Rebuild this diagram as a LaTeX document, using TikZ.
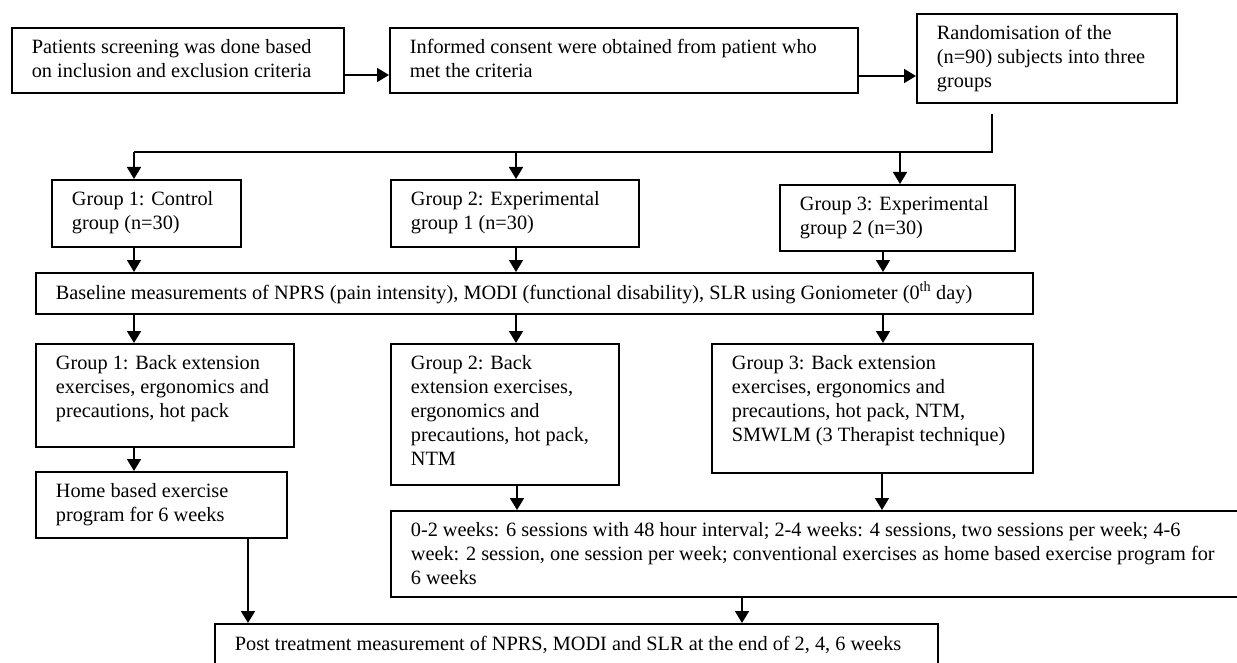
\documentclass[tikz,border=0pt]{standalone}
\usepackage{fontspec}
\setmainfont{Liberation Serif}
\usetikzlibrary{arrows.meta}
\newcommand{\boxtext}[3]{\parbox[c][#2pt][t]{#1pt}{\raggedright\strut #3}}
\begin{document}
\begin{tikzpicture}[x=1pt,y=-1pt,
  every node/.style={font=\fontsize{20.3}{24}\selectfont},
  box/.style={draw, line width=1.7pt, inner xsep=20pt, inner ysep=9pt, anchor=north west},
  conn/.style={line width=1.7pt},
  arr/.style={conn, -{Triangle[length=12pt,width=14pt]}}]
\useasboundingbox (0,0) rectangle (1237,663);
% top row
\node[box] (A) at (11,27) {\boxtext{292}{47}{Patients screening was done based\\on inclusion and exclusion criteria}};
\node[box] (B) at (389,27) {\boxtext{428}{47}{Informed consent were obtained from patient who\\met the criteria}};
\node[box] (C) at (916,13) {\boxtext{220}{71}{Randomisation of the\\(n=90) subjects into three\\groups}};
% groups
\node[box] (G1) at (51,179) {\boxtext{149}{49}{Group 1: Control\\group (n=30)}};
\node[box] (G2) at (390,179) {\boxtext{208}{49}{Group 2: Experimental\\group 1 (n=30)}};
\node[box] (G3) at (779,184) {\boxtext{195}{48}{Group 3: Experimental\\group 2 (n=30)}};
% baseline
\node[box] (BL) at (35,272) {\boxtext{957}{23}{Baseline measurements of NPRS (pain intensity), MODI (functional disability), SLR using Goniometer (0\textsuperscript{th} day)}};
% treatments
\node[box] (G1b) at (35,343) {\boxtext{218}{85}{Group 1: Back extension\\exercises, ergonomics and\\precautions, hot pack}};
\node[box] (G2b) at (390,343) {\boxtext{188}{123}{Group 2: Back\\extension exercises,\\ergonomics and\\precautions, hot pack,\\NTM}};
\node[box] (G3b) at (711,343) {\boxtext{281}{111}{Group 3: Back extension\\exercises, ergonomics and\\precautions, hot pack, NTM,\\SMWLM (3 Therapist technique)}};
\node[box] (H) at (35,471) {\boxtext{211}{48}{Home based exercise\\program for 6 weeks}};
\node[box] (S) at (390,510) {\boxtext{810}{68}{0-2 weeks: 6 sessions with 48 hour interval; 2-4 weeks: 4 sessions, two sessions per week; 4-6\\week: 2 session, one session per week; conventional exercises as home based exercise program for\\6 weeks}};
\node[box, inner ysep=10pt] (P) at (214,623) {\boxtext{683}{40}{Post treatment measurement of NPRS, MODI and SLR at the end of 2, 4, 6 weeks}};
% connectors
\draw[arr] (A.east |- 0,75) -- (B.west |- 0,75);
\draw[arr] (B.east |- 0,76) -- (C.west |- 0,76);
\coordinate (ctop) at (992,114);
\coordinate (busR) at (992,152);
\coordinate (bus1) at (134,152);
\coordinate (bus2) at (516,152);
\coordinate (bus3) at (900,152);
\draw[conn] (ctop) -- (busR) -- (bus1);
\draw[arr] (bus1) -- (bus1 |- G1.north);
\draw[arr] (bus2) -- (bus2 |- G2.north);
\draw[arr] (bus3) -- (bus3 |- G3.north);
\draw[arr] (G1.south -| 134,0) -- (BL.north -| 134,0);
\draw[arr] (G2.south -| 516,0) -- (BL.north -| 516,0);
\draw[arr] (G3.south -| 883,0) -- (BL.north -| 883,0);
\draw[arr] (BL.south -| 134,0) -- (G1b.north -| 134,0);
\draw[arr] (BL.south -| 516,0) -- (G2b.north -| 516,0);
\draw[arr] (BL.south -| 883,0) -- (G3b.north -| 883,0);
\draw[arr] (G1b.south -| 134,0) -- (H.north -| 134,0);
\draw[arr] (G2b.south -| 517,0) -- (S.north -| 517,0);
\draw[arr] (G3b.south -| 882,0) -- (S.north -| 882,0);
\draw[arr] (H.south -| 248,0) -- (P.north -| 248,0);
\draw[arr] (S.south -| 742,0) -- (P.north -| 742,0);
\end{tikzpicture}
\end{document}
